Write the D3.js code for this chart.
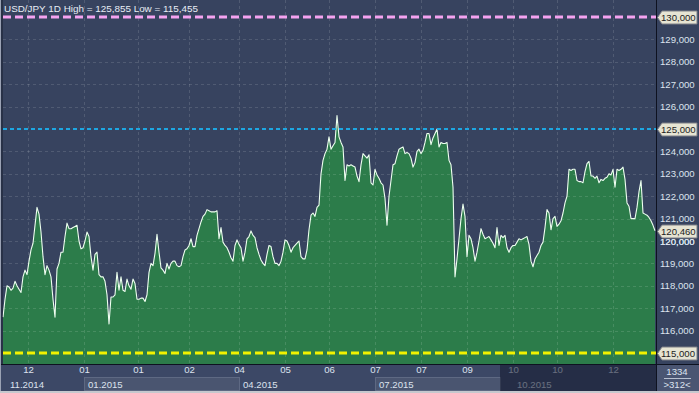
<!DOCTYPE html>
<html>
<head>
<meta charset="utf-8">
<script src="https://cdn.jsdelivr.net/npm/d3@7"></script>
<style>
html,body{margin:0;padding:0;background:#37435f;overflow:hidden;}
svg{display:block;font-family:"Liberation Sans",Arial,sans-serif;}
</style>
</head>
<body>
<svg id="chart" width="699" height="393"></svg>
<script>
// ---- data ----
const title = "USD/JPY 1D High = 125,855 Low = 115,455";
const closes = [
116.6,117.4,118.0,117.95,117.8,117.9,118.2,118.0,117.85,117.7,
118.4,118.7,118.5,119.1,119.6,119.9,120.7,121.5,121.2,120.4,
119.3,118.5,118.9,118.7,118.4,117.4,116.6,118.75,119.0,119.5,
119.5,120.2,120.8,120.55,120.55,120.6,120.65,120.7,120.0,119.65,
119.7,120.0,120.4,120.2,119.3,118.7,119.4,119.5,118.5,118.4,
118.4,118.2,117.6,116.3,117.5,117.5,117.6,118.6,117.8,118.4,
117.8,117.75,118.3,118.0,117.85,118.3,118.1,117.4,117.4,117.45,
117.45,117.3,117.6,118.6,119.0,118.9,119.45,120.3,119.5,118.8,
118.7,118.55,119.0,118.75,119.0,119.1,119.1,118.9,118.85,118.9,
119.3,119.6,119.65,119.8,120.1,119.75,119.75,120.25,120.55,120.85,
121.1,121.2,121.4,121.35,121.3,121.3,121.3,121.35,120.1,120.6,
119.95,119.8,119.7,119.5,119.25,119.1,119.8,120.05,119.85,119.7,
119.1,119.5,120.1,120.2,120.45,120.25,120.15,119.7,119.4,119.15,
119.0,118.9,119.4,119.8,119.75,119.3,119.0,119.0,118.9,119.1,
119.5,120.05,120.0,119.8,119.5,119.7,119.8,119.9,120.0,119.3,
119.2,119.2,119.6,120.5,121.15,121.25,121.1,121.5,121.6,123.0,
123.6,123.9,124.1,124.65,124.1,124.25,124.4,125.6,124.65,124.4,
124.2,122.7,123.4,123.35,123.4,123.35,123.3,122.9,122.65,123.4,
123.9,123.8,123.7,123.85,122.6,122.5,123.2,122.95,122.8,122.6,
122.5,121.9,120.7,122.0,122.7,123.4,123.45,123.8,124.1,124.15,
124.2,123.9,123.95,123.9,123.7,123.3,123.5,124.0,124.1,123.9,
124.05,124.4,124.8,124.8,124.3,124.6,124.8,125.0,124.2,124.4,
124.35,124.35,124.4,123.6,123.4,122.4,118.4,119.2,120.1,121.0,
121.65,121.1,119.3,120.25,120.1,119.7,119.1,119.5,120.0,120.55,
120.3,120.1,120.15,120.2,120.05,119.9,119.7,120.6,119.8,120.25,
120.15,120.25,119.7,119.5,119.7,119.8,119.8,119.95,120.1,120.05,
120.1,120.15,120.2,119.85,119.1,118.85,119.2,119.35,119.5,119.8,
119.95,120.6,121.4,121.25,120.5,121.0,121.1,120.65,120.75,120.9,
121.25,121.7,122.0,123.2,123.15,123.2,123.2,122.7,122.65,122.65,
122.6,123.1,123.45,123.55,122.9,122.9,122.8,122.9,122.6,122.75,
122.7,122.8,122.85,123.0,122.95,123.2,122.4,123.2,123.15,123.2,
123.3,122.75,121.7,121.55,121.0,121.0,121.0,121.5,122.2,122.7,
121.25,121.2,121.15,121.05,120.9,120.7,120.46
];
const lastPrice = 120.46;
const yTicks = [116,117,118,119,120,121,122,123,124,126,127,128,129];
const levels = [130, 125, 115];
const tickBars = [12.5,40.5,67.5,93,118,141,163,186,209,232,255,277,305];
const tickLabels = ["12","01","01","02","04","05","06","07","07","09","10","10","12"];
const periodBars = [1.5,40.5,118,186,255];
const periodLabels = ["11.2014","01.2015","04.2015","07.2015","10.2015"];
const shadedPeriods = [[40.5,118],[186,248.5]];
const hiddenRange = [248.5, 326.5];
const footerTop = "1334";
const footerBottom = ">312<";

// ---- chart ----
const W = 699, H = 393;
const plotL = 3, plotR = 656, plotB = 364;
const svg = d3.select("#chart");
const x = d3.scaleLinear().domain([0, closes.length - 1]).range([plotL, 655]);
const y = d3.scaleLinear().domain([115, 130]).range([353, 17]);
const fmt = v => d3.format(".3f")(v).replace(".", ",");
const FS = 9.6;

svg.append("rect").attr("width", W).attr("height", H).attr("fill", "#37435f");
// bottom bar
svg.append("rect").attr("x", 0).attr("y", plotB + 1).attr("width", plotR).attr("height", 26).attr("fill", "#3c4866");
svg.append("rect").attr("x", plotR + 1).attr("y", plotB + 1).attr("width", W - plotR - 1).attr("height", 26).attr("fill", "#4a5572");
svg.append("rect").attr("x", 0).attr("y", 391).attr("width", W).attr("height", 2).attr("fill", "#c6c8ce");

// area + grid
const area = d3.area().x((d, i) => x(i)).y0(plotB).y1(d => y(d));
const line = d3.line().x((d, i) => x(i)).y(d => y(d));
svg.append("path").datum(closes).attr("d", area).attr("fill", "#2c7c4a");

const grid = svg.append("g").attr("stroke", "rgba(255,255,255,0.13)").attr("stroke-dasharray", "3,3").attr("stroke-width", 1);
grid.selectAll("line.h").data(yTicks).join("line")
  .attr("x1", plotL).attr("x2", plotR).attr("y1", d => Math.round(y(d)) + 0.5).attr("y2", d => Math.round(y(d)) + 0.5);
grid.selectAll("line.v").data(tickBars).join("line")
  .attr("y1", 0).attr("y2", plotB).attr("x1", d => Math.round(x(d)) + 0.5).attr("x2", d => Math.round(x(d)) + 0.5);

svg.append("path").datum(closes).attr("d", line).attr("fill", "none")
  .attr("stroke", "#eefff0").attr("stroke-width", 1.1).attr("stroke-linejoin", "round");

// level lines
const levelStyle = {130: ["#f4a3f0", 3, "8,4"], 125: ["#1da7e2", 2, "4,3"], 115: ["#f2f200", 3, "8,4"]};
svg.selectAll("line.lvl").data(levels).join("line")
  .attr("x1", plotL).attr("x2", plotR)
  .attr("y1", d => y(d)).attr("y2", d => y(d))
  .attr("stroke", d => levelStyle[d][0]).attr("stroke-width", d => levelStyle[d][1])
  .attr("stroke-dasharray", d => levelStyle[d][2]);

// borders
svg.append("line").attr("x1", plotR + 0.5).attr("x2", plotR + 0.5).attr("y1", 0).attr("y2", 391).attr("stroke", "#0e1220");
svg.append("line").attr("x1", 0).attr("x2", W).attr("y1", plotB + 0.5).attr("y2", plotB + 0.5).attr("stroke", "#0e1220");
svg.append("line").attr("x1", 0.5).attr("x2", 0.5).attr("y1", 0).attr("y2", 391).attr("stroke", "#9aa2b4");
svg.append("line").attr("x1", 2).attr("x2", 2).attr("y1", 0).attr("y2", plotB).attr("stroke", "#1a2030").attr("stroke-width", 1);

// title
svg.append("text").attr("x", 4).attr("y", 12).attr("fill", "#e8edf5").attr("font-size", 9.9).text(title);

// right axis
const yAxis = d3.axisRight(y).tickValues(yTicks.concat([120])).tickSize(0).tickPadding(4).tickFormat(fmt);
const ya = svg.append("g").attr("transform", `translate(${plotR},0)`).call(yAxis);
ya.select(".domain").remove();
ya.selectAll("text").attr("fill", "#dce3ee").attr("font-size", FS).attr("font-family", "Liberation Sans, Arial, sans-serif");

// boxed labels
const boxVals = levels.concat([lastPrice]);
const bg = svg.append("g");
boxVals.forEach(v => {
  const cy = Math.round(y(v)) + 0.5;
  const x0 = plotR + 1.5, x1 = plotR + 6, x2 = 697;
  bg.append("path")
    .attr("d", `M${x0},${cy} L${x1},${cy - 6.5} L${x2},${cy - 6.5} L${x2},${cy + 6.5} L${x1},${cy + 6.5} Z`)
    .attr("fill", "#e6e4d3").attr("stroke", "#7d7f86").attr("stroke-width", 1);
  bg.append("text").attr("x", plotR + 5).attr("y", cy + 3.4).attr("fill", "#1c1c1c")
    .attr("font-size", FS).text(fmt(v));
});

// bottom axis
const bb = svg.append("g");
shadedPeriods.forEach(p => {
  bb.append("rect").attr("x", Math.round(x(p[0])) + 0.5).attr("y", 377.5)
    .attr("width", Math.round(x(p[1]) - x(p[0]))).attr("height", 13)
    .attr("fill", "#4a5570").attr("stroke", "#5e6983");
});
const xAxis = d3.axisBottom(x).tickValues(tickBars).tickSize(0).tickPadding(0)
  .tickFormat((d, i) => tickLabels[i]);
const xa = svg.append("g").attr("transform", `translate(0,${plotB + 2})`).call(xAxis);
xa.select(".domain").remove();
xa.selectAll("text").attr("fill", "#dce3ee").attr("font-size", FS).attr("font-family", "Liberation Sans, Arial, sans-serif");
svg.selectAll("text.period").data(periodLabels).join("text").attr("class", "period")
  .attr("x", (d, i) => x(periodBars[i]) + 4).attr("y", 387.5)
  .attr("fill", "#dce3ee").attr("font-size", FS).text(d => d);
svg.append("rect").attr("x", x(hiddenRange[0])).attr("y", plotB + 1)
  .attr("width", plotR - x(hiddenRange[0])).attr("height", 26)
  .attr("fill", "rgba(20,26,46,0.58)");

// footer numbers
svg.append("text").attr("x", 677).attr("y", 375).attr("text-anchor", "middle").attr("fill", "#dce3ee").attr("font-size", FS).text(footerTop);
svg.append("line").attr("x1", 664).attr("x2", 691).attr("y1", 378.5).attr("y2", 378.5).attr("stroke", "#b8c0d0");
svg.append("text").attr("x", 677).attr("y", 388).attr("text-anchor", "middle").attr("fill", "#dce3ee").attr("font-size", FS).text(footerBottom);
</script>
</body>
</html>
